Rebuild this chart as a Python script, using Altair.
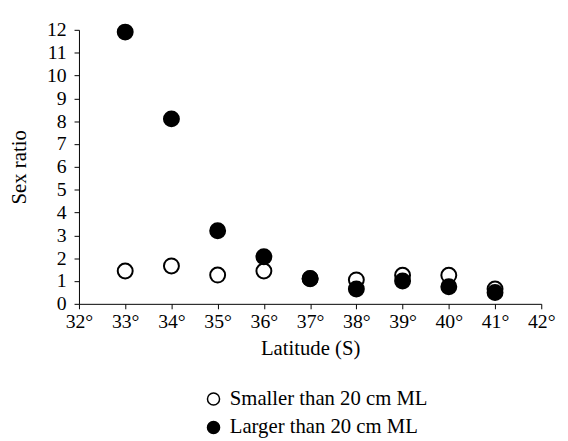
import altair as alt
import pandas as pd

latitude = [33, 34, 35, 36, 37, 38, 39, 40, 41]
smaller = [1.44, 1.66, 1.26, 1.44, 1.1, 1.05, 1.25, 1.25, 0.65]
larger = [11.9, 8.1, 3.2, 2.06, 1.11, 0.65, 1.0, 0.75, 0.5]
groups = ["Smaller than 20 cm ML", "Larger than 20 cm ML"]

rows = []
for lat, v in zip(latitude, smaller):
    rows.append({"lat": lat, "ratio": v, "group": groups[0], "order": 0})
for lat, v in zip(latitude, larger):
    rows.append({"lat": lat, "ratio": v, "group": groups[1], "order": 1})
df = pd.DataFrame(rows)

FONT = "Liberation Serif"

chart = alt.Chart(df).mark_point(
    filled=True, shape="circle", size=230, stroke="black", strokeWidth=2, opacity=1
).encode(
    x=alt.X("lat:Q", title="Latitude (S)",
            scale=alt.Scale(domain=[32, 42], nice=False, zero=False),
            axis=alt.Axis(values=list(range(32, 43)), labelExpr="datum.value + '°'",
                          tickSize=5, labelPadding=3, titlePadding=6, grid=False,
                          labelFlush=False)),
    y=alt.Y("ratio:Q", title="Sex ratio",
            scale=alt.Scale(domain=[0, 12], nice=False),
            axis=alt.Axis(values=list(range(0, 13)), tickSize=5, labelPadding=8,
                          titlePadding=17, grid=False)),
    fill=alt.Fill("group:N", scale=alt.Scale(domain=groups, range=["white", "black"]),
                  legend=alt.Legend(title=None, orient="none", legendX=126, legendY=364,
                                    symbolType="circle", symbolSize=150,
                                    symbolStrokeColor="black", symbolStrokeWidth=1.5,
                                    labelFont=FONT, labelFontSize=21, labelColor="black",
                                    labelLimit=400, rowPadding=7, padding=0,
                                    labelOffset=6)),
    order=alt.Order("order:Q"),
).properties(
    width=469, height=278,
    padding={"left": 1, "top": 9, "right": 5, "bottom": 0}
).configure_view(
    stroke=None
).configure_axis(
    domainColor="black", tickColor="black", labelColor="black", titleColor="black",
    labelFont=FONT, titleFont=FONT, labelFontSize=20, titleFontSize=21,
    titleFontWeight="normal", domainWidth=1, tickWidth=1
)

chart.save("out.html", embed_options={"renderer": "svg", "actions": False})
